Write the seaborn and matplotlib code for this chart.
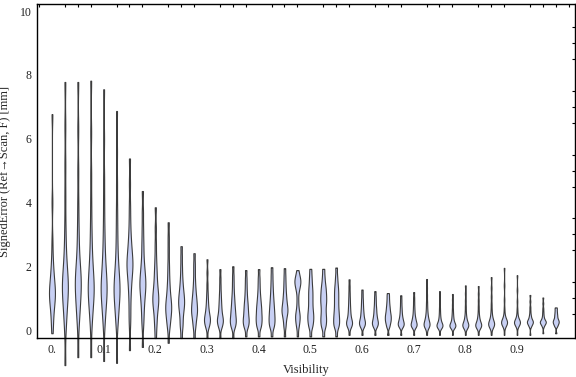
import pandas as pd
import numpy as np
import seaborn as sns
import matplotlib.pyplot as plt
from matplotlib.ticker import MultipleLocator, FixedLocator

# visibility bins (one violin per bin)
visibility = [round(0.025 * k, 3) for k in range(40)]

# signed error samples for each bin [mm]
signed_error = [
    [-0.1, 0.2, 0.45, 0.65, 0.8, 0.9, 1.0, 1.1, 1.15, 1.2, 1.3, 1.4, 1.5, 1.65, 1.8, 2.0, 2.3, 2.8, 4.0, 6.77],
    [-1.1, 0.1, 0.4, 0.7, 0.9, 1.05, 1.2, 1.3, 1.4, 1.5, 1.65, 1.8, 2.0, 2.3, 2.7, 3.3, 4.2, 5.2, 6.4, 7.78],
    [-0.85, 0.2, 0.5, 0.75, 0.95, 1.1, 1.25, 1.4, 1.5, 1.6, 1.75, 1.9, 2.1, 2.4, 2.8, 3.3, 4.0, 5.0, 6.3, 7.78],
    [-0.85, 0.2, 0.5, 0.75, 0.95, 1.1, 1.2, 1.3, 1.4, 1.55, 1.7, 1.9, 2.1, 2.4, 2.8, 3.3, 4.0, 4.9, 6.2, 7.82],
    [-0.97, 0.2, 0.5, 0.75, 0.95, 1.1, 1.2, 1.3, 1.4, 1.55, 1.7, 1.9, 2.1, 2.4, 2.8, 3.3, 4.0, 4.8, 6.0, 7.55],
    [-1.03, 0.2, 0.45, 0.7, 0.9, 1.05, 1.15, 1.25, 1.35, 1.5, 1.65, 1.8, 2.0, 2.3, 2.7, 3.2, 3.8, 4.6, 5.6, 6.87],
    [-0.63, 0.2, 0.6, 1.0, 1.3, 1.5, 1.7, 1.85, 1.95, 2.05, 2.15, 2.25, 2.4, 2.55, 2.75, 3.0, 3.4, 3.9, 4.6, 5.38],
    [-0.53, 0.15, 0.45, 0.7, 0.9, 1.05, 1.2, 1.3, 1.4, 1.5, 1.6, 1.7, 1.85, 2.0, 2.2, 2.5, 2.8, 3.2, 3.7, 4.36],
    [-0.25, 0.1, 0.3, 0.5, 0.65, 0.75, 0.85, 0.95, 1.0, 1.1, 1.2, 1.3, 1.45, 1.6, 1.8, 2.0, 2.3, 2.7, 3.2, 3.85],
    [-0.4, 0.05, 0.2, 0.35, 0.45, 0.55, 0.62, 0.7, 0.78, 0.86, 0.95, 1.05, 1.2, 1.35, 1.55, 1.8, 2.1, 2.5, 2.9, 3.38],
    [-0.25, 0.05, 0.2, 0.35, 0.5, 0.6, 0.7, 0.78, 0.85, 0.92, 1.0, 1.08, 1.17, 1.27, 1.4, 1.55, 1.75, 2.0, 2.3, 2.63],
    [-0.25, 0.05, 0.2, 0.32, 0.42, 0.5, 0.57, 0.63, 0.7, 0.77, 0.85, 0.93, 1.02, 1.12, 1.25, 1.4, 1.6, 1.85, 2.1, 2.41],
    [-0.25, 0.06, 0.13, 0.19, 0.24, 0.28, 0.32, 0.36, 0.4, 0.45, 0.51, 0.58, 0.66, 0.76, 0.88, 1.02, 1.2, 1.45, 1.8, 2.22],
    [-0.25, 0.06, 0.13, 0.19, 0.24, 0.28, 0.32, 0.36, 0.41, 0.47, 0.54, 0.62, 0.71, 0.81, 0.92, 1.05, 1.2, 1.4, 1.63, 1.91],
    [-0.25, 0.06, 0.13, 0.19, 0.25, 0.3, 0.35, 0.41, 0.48, 0.55, 0.62, 0.7, 0.79, 0.89, 1.0, 1.13, 1.3, 1.5, 1.72, 2.0],
    [-0.2, 0.06, 0.13, 0.19, 0.25, 0.3, 0.35, 0.41, 0.48, 0.55, 0.62, 0.7, 0.78, 0.87, 0.97, 1.1, 1.25, 1.43, 1.63, 1.88],
    [-0.2, 0.06, 0.13, 0.2, 0.27, 0.33, 0.39, 0.45, 0.52, 0.59, 0.66, 0.73, 0.81, 0.9, 1.0, 1.12, 1.27, 1.45, 1.65, 1.91],
    [-0.2, 0.06, 0.13, 0.2, 0.27, 0.33, 0.39, 0.46, 0.53, 0.6, 0.68, 0.76, 0.85, 0.95, 1.06, 1.19, 1.34, 1.52, 1.73, 1.97],
    [-0.2, 0.08, 0.22, 0.34, 0.43, 0.5, 0.56, 0.61, 0.66, 0.72, 0.78, 0.85, 0.93, 1.02, 1.12, 1.24, 1.38, 1.54, 1.72, 1.94],
    [-0.2, 0.08, 0.2, 0.29, 0.37, 0.44, 0.51, 0.6, 0.75, 0.95, 1.17, 1.3, 1.38, 1.44, 1.5, 1.55, 1.6, 1.66, 1.75, 1.88],
    [-0.2, 0.07, 0.16, 0.25, 0.32, 0.39, 0.46, 0.53, 0.61, 0.7, 0.8, 0.9, 1.0, 1.1, 1.2, 1.3, 1.42, 1.56, 1.72, 1.92],
    [-0.2, 0.07, 0.16, 0.25, 0.33, 0.41, 0.5, 0.6, 0.7, 0.8, 0.88, 0.96, 1.04, 1.12, 1.21, 1.3, 1.4, 1.53, 1.7, 1.92],
    [-0.2, 0.07, 0.14, 0.21, 0.28, 0.35, 0.42, 0.5, 0.58, 0.67, 0.77, 0.87, 0.97, 1.07, 1.17, 1.27, 1.38, 1.52, 1.7, 1.96],
    [-0.15, 0.07, 0.12, 0.16, 0.19, 0.22, 0.25, 0.28, 0.32, 0.37, 0.43, 0.5, 0.58, 0.67, 0.77, 0.89, 1.02, 1.18, 1.37, 1.59],
    [-0.15, 0.07, 0.12, 0.16, 0.19, 0.22, 0.25, 0.28, 0.32, 0.36, 0.41, 0.47, 0.53, 0.6, 0.68, 0.77, 0.87, 0.98, 1.12, 1.27],
    [-0.15, 0.07, 0.12, 0.16, 0.19, 0.22, 0.25, 0.28, 0.32, 0.36, 0.41, 0.46, 0.52, 0.59, 0.66, 0.74, 0.84, 0.95, 1.07, 1.22],
    [-0.15, 0.08, 0.15, 0.21, 0.26, 0.3, 0.34, 0.38, 0.42, 0.46, 0.5, 0.55, 0.6, 0.66, 0.72, 0.79, 0.87, 0.96, 1.06, 1.16],
    [-0.15, 0.07, 0.11, 0.14, 0.17, 0.19, 0.21, 0.24, 0.27, 0.3, 0.34, 0.38, 0.43, 0.49, 0.56, 0.64, 0.73, 0.84, 0.96, 1.09],
    [-0.15, 0.06, 0.1, 0.13, 0.15, 0.17, 0.19, 0.22, 0.25, 0.28, 0.32, 0.36, 0.41, 0.47, 0.55, 0.64, 0.75, 0.88, 1.02, 1.19],
    [-0.15, 0.06, 0.1, 0.13, 0.15, 0.17, 0.19, 0.22, 0.25, 0.29, 0.33, 0.38, 0.44, 0.52, 0.62, 0.75, 0.9, 1.1, 1.33, 1.6],
    [-0.15, 0.05, 0.08, 0.1, 0.12, 0.13, 0.15, 0.17, 0.19, 0.21, 0.24, 0.28, 0.33, 0.39, 0.47, 0.57, 0.69, 0.84, 1.02, 1.22],
    [-0.15, 0.05, 0.08, 0.1, 0.12, 0.13, 0.15, 0.17, 0.19, 0.21, 0.24, 0.28, 0.33, 0.39, 0.46, 0.55, 0.66, 0.8, 0.96, 1.13],
    [-0.15, 0.05, 0.08, 0.1, 0.12, 0.14, 0.16, 0.18, 0.2, 0.22, 0.25, 0.29, 0.34, 0.4, 0.48, 0.6, 0.75, 0.93, 1.15, 1.4],
    [-0.15, 0.05, 0.08, 0.1, 0.12, 0.14, 0.16, 0.18, 0.2, 0.22, 0.25, 0.29, 0.34, 0.4, 0.48, 0.6, 0.75, 0.93, 1.14, 1.38],
    [-0.15, 0.06, 0.1, 0.13, 0.15, 0.17, 0.19, 0.21, 0.23, 0.25, 0.28, 0.32, 0.37, 0.43, 0.52, 0.65, 0.82, 1.05, 1.32, 1.66],
    [-0.15, 0.1, 0.15, 0.18, 0.2, 0.22, 0.23, 0.24, 0.25, 0.26, 0.28, 0.3, 0.33, 0.37, 0.43, 0.52, 0.68, 0.95, 1.4, 1.95],
    [-0.15, 0.1, 0.15, 0.18, 0.2, 0.22, 0.23, 0.24, 0.25, 0.26, 0.28, 0.3, 0.33, 0.37, 0.43, 0.52, 0.66, 0.9, 1.25, 1.72],
    [-0.15, 0.1, 0.14, 0.17, 0.2, 0.22, 0.24, 0.25, 0.26, 0.28, 0.3, 0.32, 0.35, 0.39, 0.44, 0.5, 0.6, 0.72, 0.9, 1.1],
    [-0.1, 0.1, 0.15, 0.18, 0.2, 0.22, 0.24, 0.25, 0.26, 0.27, 0.29, 0.31, 0.34, 0.38, 0.43, 0.5, 0.58, 0.68, 0.84, 1.02],
    [-0.1, 0.1, 0.14, 0.17, 0.2, 0.22, 0.24, 0.26, 0.28, 0.3, 0.32, 0.35, 0.38, 0.42, 0.46, 0.5, 0.55, 0.6, 0.66, 0.71],
]

x_ticks = [0.0, 0.1, 0.2, 0.3, 0.4, 0.5, 0.6, 0.7, 0.8, 0.9]
x_ticklabels = ["0.", "0.1", "0.2", "0.3", "0.4", "0.5", "0.6", "0.7", "0.8", "0.9"]
y_ticks = [0, 2, 4, 6, 8, 10]

rows = []
for v, errs in zip(visibility, signed_error):
    for e in errs:
        rows.append((v, e))
df = pd.DataFrame(rows, columns=["Visibility", "err"])

sns.set_style("white")
plt.rcParams['font.family'] = ['Liberation Serif', 'DejaVu Serif']

fig = plt.figure(figsize=(5.76, 3.77), dpi=100)
ax = fig.add_axes([0.0642, 0.1034, 0.9338, 0.8856])

sns.violinplot(data=df, x="Visibility", y="err", native_scale=True,
               density_norm="width", cut=0, inner=None, bw_adjust=0.35,
               width=0.46, color="#c8d0f4", saturation=1,
               linecolor="#3c3c3c", linewidth=0.8, ax=ax)
# tails below zero hang out under the frame
for c in ax.collections:
    c.set_clip_on(False)

ax.set_xlim(-0.029, 1.012)
ax.set_ylim(-0.25, 10.22)

ax.xaxis.set_major_locator(FixedLocator(x_ticks))
ax.set_xticklabels(x_ticklabels)
ax.xaxis.set_minor_locator(MultipleLocator(0.025))
ax.yaxis.set_major_locator(FixedLocator(y_ticks))
ax.yaxis.set_minor_locator(MultipleLocator(0.5))

ax.tick_params(which="both", direction="in", top=True, right=True,
               colors="black", labelcolor="#222222", labelsize=8.5, width=0.8)
ax.tick_params(which="major", length=4, pad=4)
ax.tick_params(which="minor", length=2.5)
ax.tick_params(axis="x", which="major", top=False)
ax.tick_params(axis="y", which="major", right=False)

for s in ax.spines.values():
    s.set_color("black")
    s.set_linewidth(1.0)

ax.set_xlabel("Visibility", fontsize=9, labelpad=6)
ax.set_ylabel("SignedError (Ref\u2192Scan, F) [mm]", fontsize=9, labelpad=6)

fig.savefig("out.png", dpi=100)
